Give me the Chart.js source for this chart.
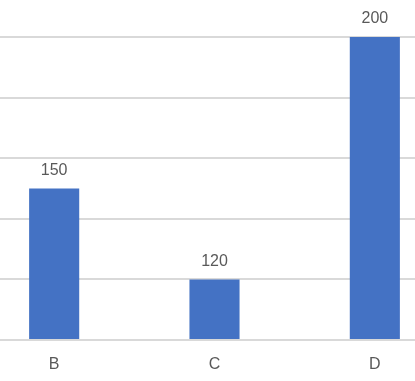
<!DOCTYPE html>
<html>
<head>
<meta charset="utf-8">
<script src="https://cdn.jsdelivr.net/npm/chart.js@4/dist/chart.umd.min.js"></script>
<style>
  html, body { margin: 0; padding: 0; background: #fff; overflow: hidden; }
  #wrap { position: absolute; left: -26px; top: 0; width: 481px; height: 381px; }
</style>
</head>
<body>
<div id="wrap"><canvas id="barChart"></canvas></div>
<script>
// values
var categories = ['B', 'C', 'D']
var values = [150, 120, 200]
var yMin = 100
var yMax = 200
var yStep = 20

var barColor = 'rgb(68, 114, 196)'
var textColor = '#595959'
var fontFamily = '"Liberation Sans", Arial, sans-serif'

// draws the value above each bar
var valueLabels = {
    id: 'valueLabels',
    afterDatasetsDraw: function(chart) {
        var ctx = chart.ctx
        var meta = chart.getDatasetMeta(0)
        ctx.save()
        ctx.font = '16px ' + fontFamily
        ctx.fillStyle = textColor
        ctx.textAlign = 'center'
        ctx.textBaseline = 'middle'
        meta.data.forEach(function(bar, i) {
            ctx.fillText(values[i], bar.x, bar.y - 18)
        })
        ctx.restore()
    }
}

var ctx = document.getElementById('barChart')
var myBarChart = new Chart(ctx, {
    type: 'bar',
    data: {
        labels: categories,
        datasets: [{
            data: values,
            backgroundColor: barColor,
            categoryPercentage: 1,
            barPercentage: 0.3125,
            base: yMin
        }]
    },
    options: {
        responsive: true,
        maintainAspectRatio: false,
        animation: false,
        layout: { padding: { top: 37, left: 0, right: 0, bottom: 0 } },
        plugins: {
            legend: { display: false },
            tooltip: { enabled: false }
        },
        scales: {
            x: {
                grid: { display: false, drawTicks: false },
                border: { display: false },
                ticks: {
                    color: textColor,
                    font: { family: fontFamily, size: 16 },
                    padding: 15
                },
                afterFit: function(s) { s.height = 41 }
            },
            y: {
                min: yMin,
                max: yMax,
                ticks: { stepSize: yStep, display: false },
                grid: { color: '#d9d9d9', lineWidth: 2, drawTicks: false },
                border: { display: false },
                afterFit: function(s) { s.width = 0 }
            }
        }
    },
    plugins: [valueLabels]
})
</script>
</body>
</html>
